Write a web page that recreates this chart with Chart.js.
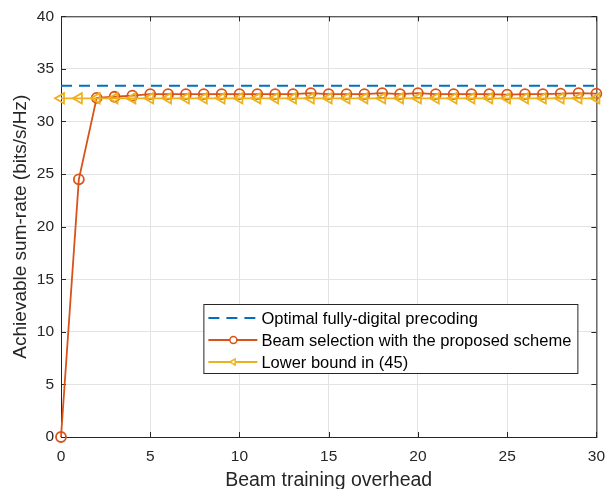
<!DOCTYPE html>
<html>
<head>
<meta charset="utf-8">
<script src="https://cdn.jsdelivr.net/npm/chart.js@4"></script>
<style>
  html, body { margin: 0; padding: 0; background: #fff; }
  #wrap { width: 615px; height: 489px; }
</style>
</head>
<body>
<div id="wrap"><canvas id="rateChart"></canvas></div>
<script>
// datos
const overhead = [0, 1, 2, 3, 4, 5, 6, 7, 8, 9, 10, 11, 12, 13, 14, 15, 16, 17, 18, 19, 20, 21, 22, 23, 24, 25, 26, 27, 28, 29, 30];
const optimalRate = [33.4, 33.4, 33.4, 33.4, 33.4, 33.4, 33.4, 33.4, 33.4, 33.4, 33.4, 33.4, 33.4, 33.4, 33.4, 33.4, 33.4, 33.4, 33.4, 33.4, 33.4, 33.4, 33.4, 33.4, 33.4, 33.4, 33.4, 33.4, 33.4, 33.4, 33.4];
const proposedRate = [0, 24.5, 32.25, 32.35, 32.45, 32.6, 32.6, 32.6, 32.6, 32.6, 32.6, 32.6, 32.6, 32.6, 32.7, 32.6, 32.6, 32.6, 32.7, 32.6, 32.7, 32.6, 32.6, 32.6, 32.6, 32.55, 32.6, 32.6, 32.65, 32.7, 32.65];
const lowerBound = [32.2, 32.2, 32.2, 32.2, 32.2, 32.2, 32.2, 32.2, 32.2, 32.2, 32.2, 32.2, 32.2, 32.2, 32.2, 32.2, 32.2, 32.2, 32.2, 32.2, 32.2, 32.2, 32.2, 32.2, 32.2, 32.2, 32.2, 32.2, 32.2, 32.2, 32.2];
const seriesNames = ['Optimal fully-digital precoding', 'Beam selection with the proposed scheme', 'Lower bound in (45)'];
const xTicks = [0, 5, 10, 15, 20, 25, 30];
const yTicks = [0, 5, 10, 15, 20, 25, 30, 35, 40];

const toPoints = vals => overhead.map((x, i) => ({ x: x, y: vals[i] }));
const FONT = 'Arial, "Liberation Sans", Helvetica, sans-serif';
const TXT = '#262626';

// marco tipo MATLAB con marcas hacia dentro
const boxPlugin = {
    id: 'boxPlugin',
    beforeDatasetsDraw(chart) {
        const { ctx, chartArea: a, scales } = chart;
        ctx.save();
        ctx.strokeStyle = TXT;
        ctx.lineWidth = 1;
        ctx.strokeRect(a.left + 0.5, a.top + 0.5, a.right - a.left, a.bottom - a.top);
        ctx.beginPath();
        xTicks.forEach(v => {
            const px = Math.round(scales.x.getPixelForValue(v)) + 0.5;
            ctx.moveTo(px, a.bottom); ctx.lineTo(px, a.bottom - 5);
            ctx.moveTo(px, a.top); ctx.lineTo(px, a.top + 5);
        });
        yTicks.forEach(v => {
            const py = Math.round(scales.y.getPixelForValue(v)) + 0.5;
            ctx.moveTo(a.left, py); ctx.lineTo(a.left + 5, py);
            ctx.moveTo(a.right, py); ctx.lineTo(a.right - 5, py);
        });
        ctx.stroke();
        ctx.restore();
    }
};

// leyenda dentro del área de la gráfica
const legendPlugin = {
    id: 'insideLegend',
    afterDatasetsDraw(chart) {
        const { ctx, chartArea: a } = chart;
        const sets = chart.data.datasets;
        ctx.save();
        ctx.font = '16.5px ' + FONT;
        const textW = Math.max(...sets.map(d => ctx.measureText(d.label).width));
        const rowH = 22;
        const w = 58 + textW + 6;
        const h = 69;
        const x0 = a.right - 19 - w;
        const y0 = 304;
        ctx.fillStyle = '#fff';
        ctx.fillRect(x0, y0, w, h);
        ctx.strokeStyle = '#262626';
        ctx.lineWidth = 1;
        ctx.strokeRect(x0 + 0.5, y0 + 0.5, w, h);
        sets.forEach((d, i) => {
            const cy = y0 + 14 + i * rowH;
            ctx.strokeStyle = d.borderColor;
            ctx.lineWidth = d.borderWidth;
            ctx.setLineDash(d.borderDash || []);
            ctx.beginPath();
            ctx.moveTo(x0 + 5, cy); ctx.lineTo(x0 + 54, cy);
            ctx.stroke();
            ctx.setLineDash([]);
            if (d.pointRadius > 0) {
                ctx.fillStyle = '#fff';
                ctx.strokeStyle = d.borderColor;
                ctx.lineWidth = 1.5;
                Chart.helpers.drawPoint(ctx, {
                    pointStyle: d.pointStyle,
                    rotation: d.pointRotation || 0,
                    radius: 3.5,
                    borderWidth: 1.5
                }, x0 + 30, cy);
            }
            ctx.fillStyle = '#000';
            ctx.textBaseline = 'middle';
            ctx.textAlign = 'left';
            ctx.fillText(d.label, x0 + 58, cy + 1);
        });
        ctx.restore();
    }
};

const ctx = document.getElementById('rateChart').getContext('2d');
new Chart(ctx, {
    type: 'line',
    data: {
        datasets: [{
            label: seriesNames[0],
            data: toPoints(optimalRate),
            borderColor: '#0072BD',
            borderWidth: 2,
            borderDash: [11, 7],
            pointRadius: 0,
            clip: false,
            order: 2
        }, {
            label: seriesNames[1],
            data: toPoints(proposedRate),
            borderColor: '#D95319',
            backgroundColor: 'rgba(0,0,0,0)',
            borderWidth: 1.8,
            pointStyle: 'circle',
            pointRadius: 5,
            pointBorderWidth: 1.8,
            clip: false,
            order: 1
        }, {
            label: seriesNames[2],
            data: toPoints(lowerBound),
            borderColor: '#EDB120',
            backgroundColor: 'rgba(0,0,0,0)',
            borderWidth: 1.8,
            pointStyle: 'triangle',
            pointRotation: -90,
            pointRadius: 6,
            pointBorderWidth: 1.8,
            clip: false,
            order: 0
        }]
    },
    options: {
        responsive: true,
        maintainAspectRatio: false,
        animation: false,
        layout: { padding: { top: 14, right: 17, left: 0, bottom: 0 } },
        plugins: { legend: { display: false }, tooltip: { enabled: false } },
        scales: {
            x: {
                type: 'linear',
                min: 0,
                max: 30,
                afterBuildTicks: s => { s.ticks = xTicks.map(v => ({ value: v })); },
                afterFit: s => { s.height = 52; },
                grid: { color: '#e3e3e3', drawTicks: false },
                border: { display: false },
                ticks: { color: TXT, font: { family: FONT, size: 15.5 }, padding: 10, maxRotation: 0 },
                title: { display: true, text: 'Beam training overhead', color: TXT, font: { family: FONT, size: 19.5 }, padding: { top: 0, bottom: -3 } }
            },
            y: {
                min: 0,
                max: 40,
                afterBuildTicks: s => { s.ticks = yTicks.map(v => ({ value: v })); },
                afterFit: s => { s.width = 61; },
                grid: { color: '#e3e3e3', drawTicks: false },
                border: { display: false },
                ticks: { color: TXT, font: { family: FONT, size: 15.5 }, padding: 7 },
                title: { display: true, text: 'Achievable sum-rate (bits/s/Hz)', color: TXT, font: { family: FONT, size: 19 }, padding: { top: 9, bottom: 0 } }
            }
        }
    },
    plugins: [boxPlugin, legendPlugin]
});
</script>
</body>
</html>
